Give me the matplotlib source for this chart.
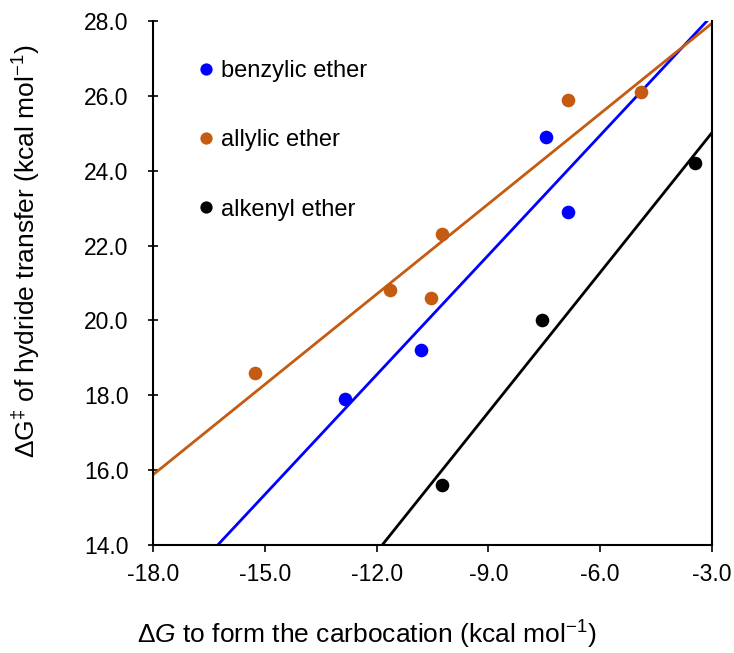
import numpy as np
import matplotlib
matplotlib.use("Agg")
import matplotlib.pyplot as plt
from matplotlib.ticker import FormatStrFormatter

plt.rcParams['font.family'] = ['Liberation Sans', 'DejaVu Sans']
plt.rcParams['mathtext.fontset'] = 'custom'
plt.rcParams['mathtext.rm'] = 'Liberation Sans'
plt.rcParams['mathtext.it'] = 'Liberation Sans:italic'
plt.rcParams['axes.unicode_minus'] = False

# data
benzyl_x = [-12.85, -10.8, -7.45, -6.85]
benzyl_y = [17.9, 19.2, 24.9, 22.9]
allyl_x = [-15.25, -11.65, -10.55, -10.25, -6.85, -4.9]
allyl_y = [18.6, 20.8, 20.6, 22.3, 25.9, 26.1]
alkenyl_x = [-10.25, -7.55, -3.45]
alkenyl_y = [15.6, 20.0, 24.2]

series = [
    ("benzylic ether", benzyl_x, benzyl_y, "#0000FF"),
    ("allylic ether", allyl_x, allyl_y, "#C55A11"),
    ("alkenyl ether", alkenyl_x, alkenyl_y, "#000000"),
]

fig = plt.figure(figsize=(7.34, 6.53), dpi=100)
ax = fig.add_axes([0.2084, 0.1654, 0.7616, 0.8024])

xs = np.array([-18.0, -3.0])
for name, x, y, c in series:
    # linear trendline
    m, b = np.polyfit(x, y, 1)
    ax.plot(xs, m * xs + b, color=c, lw=2.0, zorder=2)
    ax.plot(x, y, 'o', color=c, ms=9.8, mec='none', label=name, zorder=3)

ax.set_xlim(-18, -3)
ax.set_ylim(14, 28)
ax.set_xticks(np.arange(-18, -2.9, 3))
ax.set_yticks(np.arange(14, 28.1, 2))
ax.xaxis.set_major_formatter(FormatStrFormatter('%.1f'))
ax.yaxis.set_major_formatter(FormatStrFormatter('%.1f'))
ax.tick_params(axis='x', direction='out', length=5, width=1.2,
               labelsize=16.5, pad=8)
ax.tick_params(axis='y', direction='inout', length=7, width=1.2,
               labelsize=16.5, pad=14)

ax.spines['top'].set_visible(False)
for s in ['left', 'bottom', 'right']:
    ax.spines[s].set_linewidth(1.5)

ax.set_xlabel(r'$\Delta\mathit{G}$ to form the carbocation (kcal mol$^{-1}$)',
              fontsize=19)
ax.set_ylabel(r'$\Delta$G$^{\ddag}$ of hydride transfer (kcal mol$^{-1}$)',
              fontsize=19)
ax.xaxis.set_label_coords(0.383, -0.141)
ax.yaxis.set_label_coords(-0.199, 0.56)

leg = ax.legend(loc='upper left', bbox_to_anchor=(0.045, 0.966), frameon=False,
                fontsize=17, handlelength=0.6, handletextpad=0.3,
                labelspacing=2.0, markerscale=0.9)

fig.savefig("out.png", dpi=100)
